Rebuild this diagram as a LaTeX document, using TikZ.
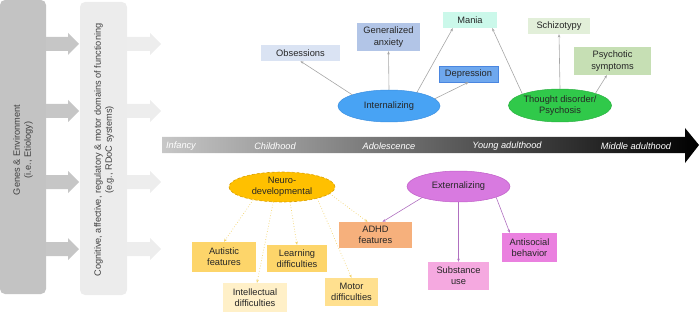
\documentclass[tikz,border=0pt]{standalone}
\usepackage{fontspec}
\setmainfont{Liberation Sans}
\usetikzlibrary{shapes.geometric,arrows.meta}
\definecolor{txt}{HTML}{262626}
\definecolor{boxA}{HTML}{C3C3C3}
\definecolor{boxB}{HTML}{ECECEC}
\definecolor{arrA}{HTML}{C6C6C6}
\definecolor{arrB}{HTML}{EDEDED}
\definecolor{obsC}{HTML}{DAE3F3}
\definecolor{genC}{HTML}{B2C5E7}
\definecolor{maniaC}{HTML}{CBF8EA}
\definecolor{depC}{HTML}{6FA8EE}
\definecolor{depD}{HTML}{4A86E0}
\definecolor{intC}{HTML}{48A3F4}
\definecolor{intD}{HTML}{3A8EE0}
\definecolor{schC}{HTML}{E2EFD9}
\definecolor{psyC}{HTML}{C6DFB4}
\definecolor{tdC}{HTML}{30C94A}
\definecolor{tdD}{HTML}{28B040}
\definecolor{ndC}{HTML}{FFC000}
\definecolor{ndD}{HTML}{D89E00}
\definecolor{autC}{HTML}{FDD56A}
\definecolor{intelC}{HTML}{FFF0C8}
\definecolor{motC}{HTML}{FFE08F}
\definecolor{adhdC}{HTML}{F6B07C}
\definecolor{extC}{HTML}{D87AE0}
\definecolor{extD}{HTML}{C060C8}
\definecolor{antiC}{HTML}{EA80DF}
\definecolor{subC}{HTML}{F5A9E0}
\definecolor{lineG}{HTML}{A6A6A6}
\definecolor{lineY}{HTML}{F2D36B}
\definecolor{lineP}{HTML}{B070C0}
\definecolor{sideTxt}{HTML}{404040}
\begin{document}
\begin{tikzpicture}[x=1pt,y=-1pt,
  lbl/.style={font=\fontsize{9.3}{11.2}\selectfont, text=txt, align=center},
  rbox/.style={lbl, rectangle, inner sep=0pt, draw=none},
  oval/.style={lbl, ellipse, inner sep=0pt},
  conn/.style={draw=lineG, line width=0.6pt, -{Stealth[length=3.2pt,width=2.6pt]}},
  nconn/.style={draw=lineY, line width=0.7pt, dotted, -{Stealth[length=3.2pt,width=2.6pt]}},
  pconn/.style={draw=lineP, line width=0.6pt, -{Stealth[length=3.2pt,width=2.6pt]}},
  tl/.style={font=\fontsize{9.2}{11}\selectfont\itshape, text=white},
  side/.style={font=\fontsize{9.2}{11}\selectfont, text=sideTxt, align=center, rotate=90}
]
\useasboundingbox (0,0) rectangle (700,315);

% left side boxes
\fill[boxA, rounded corners=5pt] (0,0) rectangle (46,294);
\fill[boxB, rounded corners=5pt] (80,2) rectangle (127,295);
\node[side] (genes) at (23,150) {Genes \& Environment\\(i.e., Etiology)};
\node[side] (rdoc) at (104,150) {Cognitive, affective, regulatory \& motor domains of functioning\\(e.g., RDoC systems)};

% block arrows
\foreach \yy in {44,111,182,249}{
  \fill[arrA] (46,\yy-7) -- (68,\yy-7) -- (68,\yy-11) -- (79,\yy) -- (68,\yy+11) -- (68,\yy+7) -- (46,\yy+7) -- cycle;
  \fill[arrB] (127,\yy-7) -- (150,\yy-7) -- (150,\yy-11) -- (161,\yy) -- (150,\yy+11) -- (150,\yy+7) -- (127,\yy+7) -- cycle;
}

% timeline
\shade[left color=black!22, right color=black] (162,137) -- (685,137) -- (685,128) -- (699,145) -- (685,163) -- (685,153) -- (162,153) -- cycle;
\node[tl] (t1) at (181,146) {Infancy};
\node[tl] (t2) at (275,146) {Childhood};
\node[tl] (t3) at (389,146) {Adolescence};
\node[tl] (t4) at (507,146) {Young adulthood};
\node[tl] (t5) at (636,146) {Middle adulthood};

% internalizing cluster
\node[rbox, fill=obsC, minimum width=79pt, minimum height=16pt] (obs) at (300.5,53) {Obsessions};
\node[rbox, fill=genC, minimum width=63pt, minimum height=28pt] (gen) at (388.5,37) {Generalized\\anxiety};
\node[rbox, fill=maniaC, minimum width=54pt, minimum height=16pt] (mania) at (470,20) {Mania};
\node[rbox, fill=depC, draw=depD, line width=0.4pt, minimum width=59pt, minimum height=16pt] (dep) at (468.5,74) {Depression};
\node[oval, fill=intC, draw=intD, line width=0.5pt, minimum width=102pt, minimum height=32pt] (int) at (389,106) {Internalizing};

% thought disorder cluster
\node[rbox, fill=schC, minimum width=62pt, minimum height=16pt] (schiz) at (559,26) {Schizotypy};
\node[rbox, fill=psyC, minimum width=77pt, minimum height=28pt] (psy) at (612.5,61) {Psychotic\\symptoms};
\node[oval, fill=tdC, draw=tdD, line width=0.5pt, minimum width=100pt, minimum height=33pt] (td) at (560,105.5) {Thought disorder/\\Psychosis};

% neurodevelopmental cluster
\node[oval, fill=ndC, draw=ndD, densely dashed, line width=0.6pt, minimum width=106pt, minimum height=30pt] (nd) at (282,187) {Neuro-\\developmental};
\node[rbox, fill=autC, minimum width=64pt, minimum height=30pt] (aut) at (224,257) {Autistic\\features};
\node[rbox, fill=autC, minimum width=60pt, minimum height=27pt] (learn) at (297,258.5) {Learning\\difficulties};
\node[rbox, fill=intelC, minimum width=64pt, minimum height=29pt] (intel) at (255,297.5) {Intellectual\\difficulties};
\node[rbox, fill=motC, minimum width=53pt, minimum height=28pt] (motor) at (351.5,292) {Motor\\difficulties};
\node[rbox, fill=adhdC, minimum width=73pt, minimum height=26pt] (adhd) at (375.5,235) {ADHD\\features};

% externalizing cluster
\node[oval, fill=extC, draw=extD, line width=0.5pt, minimum width=103pt, minimum height=31pt] (ext) at (458.5,186.5) {Externalizing};
\node[rbox, fill=antiC, minimum width=55pt, minimum height=29pt] (anti) at (529.5,247.5) {Antisocial\\behavior};
\node[rbox, fill=subC, minimum width=61pt, minimum height=28pt] (sub) at (458.5,276) {Substance\\use};

% connectors: internalizing
\draw[conn] (int.163) -- (obs.south);
\draw[conn] (int.north) -- (gen.south);
\draw[conn] (int.26) -- ([xshift=10pt]mania.south west);
\draw[conn] (int.9) -- (dep.south);
% thought disorder
\draw[conn] (td.163) -- ([xshift=-5pt]mania.south east);
\draw[conn] (td.north) -- (schiz.south);
\draw[conn] (td.19) -- ([xshift=33pt]psy.south west);
% neurodevelopmental
\draw[nconn] (nd.204) -- (aut.north);
\draw[nconn] (nd.240) -- ([xshift=2pt]intel.north);
\draw[nconn] (nd.298) -- (learn.north);
\draw[nconn] (nd.342) -- (motor.north);
\draw[nconn] (nd.352) -- ([xshift=-8pt]adhd.north);
% externalizing
\draw[pconn] (ext.197) -- ([xshift=7pt]adhd.north);
\draw[pconn] (ext.south) -- (sub.north);
\draw[pconn] (ext.344) -- ([xshift=8pt]anti.north west);
\end{tikzpicture}
\end{document}
